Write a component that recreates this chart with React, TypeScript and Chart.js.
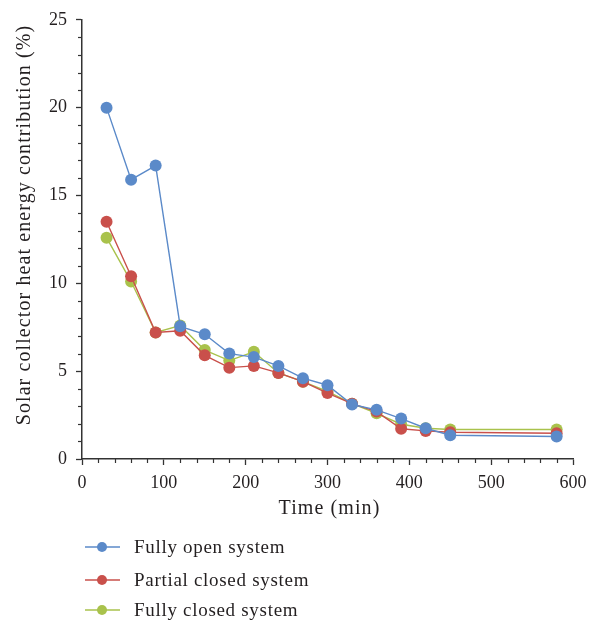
import React, { useEffect, useRef } from 'react';
import { Chart, registerables } from 'chart.js';
Chart.register(...registerables);

const timeMin = [30, 60, 90, 120, 150, 180, 210, 240, 270, 300, 330, 360, 390, 420, 450, 580];
const fullyOpen = [20.0, 15.9, 16.7, 7.55, 7.1, 6.0, 5.8, 5.3, 4.6, 4.2, 3.1, 2.8, 2.3, 1.75, 1.35, 1.28];
const partialClosed = [13.5, 10.4, 7.2, 7.3, 5.9, 5.2, 5.3, 4.9, 4.4, 3.75, 3.15, 2.7, 1.72, 1.6, 1.52, 1.47];
const fullyClosed = [12.6, 10.1, 7.2, 7.6, 6.2, 5.6, 6.1, 4.9, 4.4, 3.85, 3.15, 2.6, 1.98, 1.75, 1.68, 1.68];
const seriesNames = ['Fully open system', 'Partial closed system', 'Fully closed system'];
const seriesColors = ['#5B8AC9', '#C9504B', '#A9C24C'];

const xTitle = 'Time (min)';
const yTitle = 'Solar collector heat energy contribution (%)';

const FONT = "'Liberation Serif', 'DejaVu Serif', serif";
const INK = '#231f20';

const minorTicks = {
  id: 'minorTicks',
  afterDraw(chart: any) {
    const ctx = chart.ctx;
    const xs = chart.scales.x;
    const ys = chart.scales.y;
    ctx.save();
    ctx.strokeStyle = '#333';
    ctx.lineWidth = 1.2;
    for (let v = 0; v <= 600; v += 20) {
      if (v % 100 === 0) continue;
      const px = Math.round(xs.getPixelForValue(v)) + 0.5;
      ctx.beginPath();
      ctx.moveTo(px, ys.bottom);
      ctx.lineTo(px, ys.bottom + 4);
      ctx.stroke();
    }
    for (let v = 0; v <= 25; v += 1) {
      if (v % 5 === 0) continue;
      const py = Math.round(ys.getPixelForValue(v)) + 0.5;
      ctx.beginPath();
      ctx.moveTo(xs.left - 4, py);
      ctx.lineTo(xs.left, py);
      ctx.stroke();
    }
    ctx.restore();
  },
};

const axisTitles = {
  id: 'axisTitles',
  afterDraw(chart: any) {
    const ctx = chart.ctx;
    const xs = chart.scales.x;
    ctx.save();
    ctx.fillStyle = INK;
    ctx.font = `20px ${FONT}`;
    (ctx as any).letterSpacing = '1.1px';
    ctx.textAlign = 'center';
    ctx.textBaseline = 'middle';
    ctx.fillText(xTitle, (xs.left + xs.right) / 2 + 2, 509);
    ctx.translate(25, 225);
    ctx.rotate(-Math.PI / 2);
    ctx.fillText(yTitle, 0, 0);
    ctx.restore();
  },
};

const legendRows = {
  id: 'legendRows',
  afterDraw(chart: any) {
    const ctx = chart.ctx;
    const rowsY = [547, 580, 610];
    ctx.save();
    ctx.font = `19px ${FONT}`;
    (ctx as any).letterSpacing = '0.7px';
    ctx.textBaseline = 'middle';
    ctx.textAlign = 'left';
    chart.data.datasets.forEach((ds: any, i: number) => {
      const y = rowsY[i];
      ctx.strokeStyle = ds.borderColor;
      ctx.lineWidth = 1.5;
      ctx.beginPath();
      ctx.moveTo(85, y);
      ctx.lineTo(120, y);
      ctx.stroke();
      ctx.fillStyle = ds.backgroundColor;
      ctx.beginPath();
      ctx.arc(102, y, 5, 0, Math.PI * 2);
      ctx.fill();
      ctx.fillStyle = INK;
      ctx.fillText(ds.label, 134, y + 1);
    });
    ctx.restore();
  },
};

export default function App() {
  const ref = useRef<HTMLCanvasElement | null>(null);
  useEffect(() => {
    if (!ref.current) return;
    const series = [fullyOpen, partialClosed, fullyClosed];
    const chart = new Chart(ref.current, {
      type: 'line',
      data: {
        datasets: series.map((vals, i) => ({
          label: seriesNames[i],
          data: timeMin.map((t, j) => ({ x: t, y: vals[j] })),
          borderColor: seriesColors[i],
          backgroundColor: seriesColors[i],
          pointBackgroundColor: seriesColors[i],
          pointBorderColor: seriesColors[i],
          pointRadius: 6,
          pointBorderWidth: 0,
          borderWidth: 1.4,
          tension: 0,
        })),
      },
      options: {
        responsive: false,
        animation: false,
        layout: { padding: { left: 0, top: 15, right: 26, bottom: 103 } },
        plugins: { legend: { display: false }, tooltip: { enabled: false } },
        scales: {
          x: {
            type: 'linear',
            min: 0,
            max: 600,
            afterFit: (s: any) => { s.height = 65; },
            ticks: { stepSize: 100, color: INK, font: { family: FONT, size: 18 }, padding: 7, maxRotation: 0 },
            grid: { drawOnChartArea: false, tickLength: 6, tickColor: '#333', tickWidth: 1.3 },
            border: { color: '#333', width: 1.5 },
            title: { display: false, text: xTitle },
          },
          y: {
            type: 'linear',
            min: 0,
            max: 25,
            afterFit: (s: any) => { s.width = 82; },
            ticks: { stepSize: 5, color: INK, font: { family: FONT, size: 18 }, padding: 9 },
            grid: { drawOnChartArea: false, tickLength: 6, tickColor: '#333', tickWidth: 1.3 },
            border: { color: '#333', width: 1.5 },
            title: { display: false, text: yTitle },
          },
        },
      },
      plugins: [minorTicks, axisTitles, legendRows],
    });
    return () => chart.destroy();
  }, []);
  return (
    <div style={{ position: 'absolute', left: 0, top: 0, width: 599, height: 627, background: '#fff' }}>
      <canvas ref={ref} width={599} height={627} style={{ width: 599, height: 627 }} />
    </div>
  );
}
